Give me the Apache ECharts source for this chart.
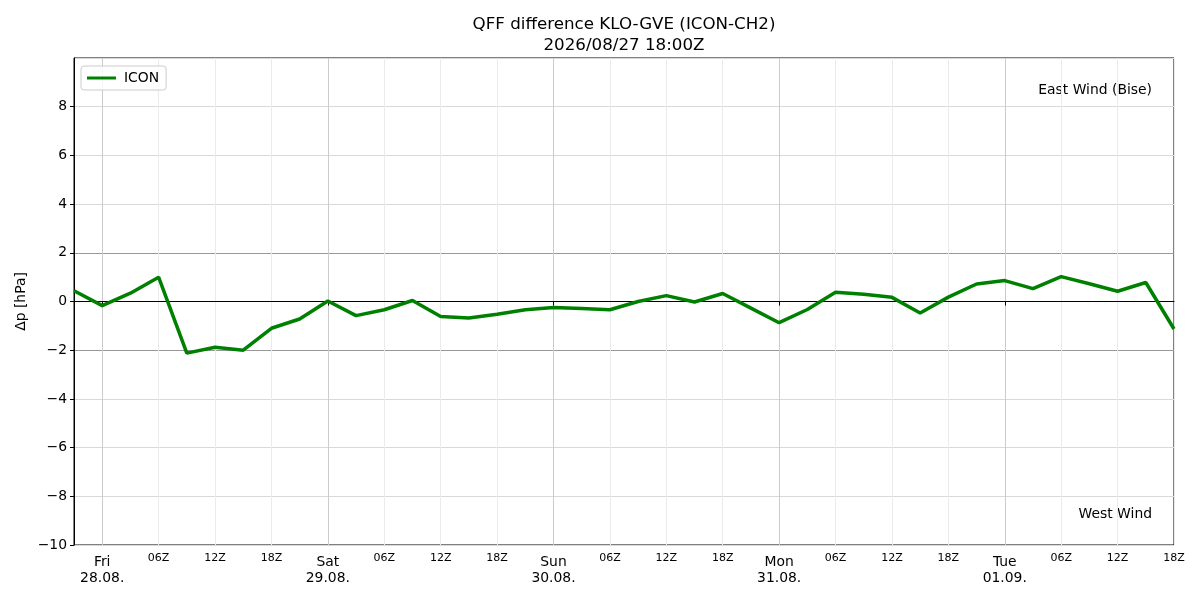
<!DOCTYPE html>
<html>
<head>
<meta charset="utf-8">
<title>QFF difference KLO-GVE</title>
<script src="https://cdn.jsdelivr.net/npm/echarts@6/dist/echarts.min.js"></script>
<style>
  html, body { margin: 0; padding: 0; background: #fff; }
  #main { width: 1200px; height: 600px; }
</style>
</head>
<body>
<div id="main"></div>
<script>
// 3-hourly forecast steps (UTC)
var times = [
    '27.08. 21Z',
    '28.08. 00Z', '28.08. 03Z', '28.08. 06Z', '28.08. 09Z', '28.08. 12Z', '28.08. 15Z', '28.08. 18Z', '28.08. 21Z',
    '29.08. 00Z', '29.08. 03Z', '29.08. 06Z', '29.08. 09Z', '29.08. 12Z', '29.08. 15Z', '29.08. 18Z', '29.08. 21Z',
    '30.08. 00Z', '30.08. 03Z', '30.08. 06Z', '30.08. 09Z', '30.08. 12Z', '30.08. 15Z', '30.08. 18Z', '30.08. 21Z',
    '31.08. 00Z', '31.08. 03Z', '31.08. 06Z', '31.08. 09Z', '31.08. 12Z', '31.08. 15Z', '31.08. 18Z', '31.08. 21Z',
    '01.09. 00Z', '01.09. 03Z', '01.09. 06Z', '01.09. 09Z', '01.09. 12Z', '01.09. 15Z', '01.09. 18Z'
];
var dates = ['28.08.', '29.08.', '30.08.', '31.08.', '01.09.'];
var weekdays = ['Fri', 'Sat', 'Sun', 'Mon', 'Tue'];

// QFF KLO - GVE in hPa
var icon = [
    0.44,
    -0.17, 0.34, 1.0, -2.12, -1.88, -2.0, -1.1, -0.72,
    0.02, -0.58, -0.34, 0.04, -0.62, -0.68, -0.52, -0.34,
    -0.25, -0.29, -0.34, 0.0, 0.24, -0.02, 0.33, -0.27,
    -0.87, -0.33, 0.38, 0.3, 0.17, -0.47, 0.18, 0.72,
    0.86, 0.53, 1.02, 0.73, 0.42, 0.78, -1.13
];

var yTicks = [-10, -8, -6, -4, -2, 0, 2, 4, 6, 8, 10];

var FONT = 'DejaVu Sans';

function everySix(idx) { return idx % 2 === 1; }
function everyDay(idx) { return idx % 8 === 1; }

// grid line colours: darker for +-2, black for 0
var yLineColors = yTicks.map(function (v) {
    if (v === 0) return '#000000';
    if (Math.abs(v) === 2) return '#999999';
    return '#d9d9d9';
});

var myChart = echarts.init(document.getElementById('main'));

var option = {
    animation: false,
    textStyle: {fontFamily: FONT},
    title: {
        text: 'QFF difference KLO-GVE (ICON-CH2)\n2026/08/27 18:00Z',
        left: 624,
        top: 14,
        textAlign: 'center',
        padding: 0,
        textStyle: {fontFamily: FONT, fontSize: 16.7, fontWeight: 'normal', color: '#000', lineHeight: 21}
    },
    legend: {
        data: ['ICON'],
        left: 81,
        top: 66,
        orient: 'vertical',
        icon: 'rect',
        itemWidth: 29,
        itemHeight: 3,
        padding: [5, 7, 5, 6],
        borderColor: '#cccccc',
        borderWidth: 1,
        borderRadius: 3,
        backgroundColor: 'rgba(255,255,255,0.8)',
        textStyle: {fontFamily: FONT, fontSize: 13.9, color: '#000', padding: [0, 0, 0, 3]}
    },
    grid: {
        left: 74,
        right: 26,
        top: 58,
        bottom: 55,
        show: true,
        borderColor: '#000',
        borderWidth: 1,
        backgroundColor: 'transparent'
    },
    xAxis: [
        {
            type: 'category',
            data: times,
            boundaryGap: false,
            axisLine: {show: true, lineStyle: {color: '#000', width: 1}},
            axisTick: {show: true, interval: function (idx) { return everyDay(idx); }, length: 4, lineStyle: {color: '#000'}},
            splitLine: {
                show: true,
                interval: function (idx) { return everySix(idx); },
                lineStyle: {color: ['#cccccc', '#ebebeb', '#ebebeb', '#ebebeb'], width: 1}
            },
            axisLabel: {
                interval: function (idx) { return everySix(idx); },
                margin: 7,
                color: '#000',
                formatter: function (val) {
                    var p = val.split(' ');
                    if (p[1] === '00Z') {
                        var wd = weekdays[dates.indexOf(p[0])];
                        return '{t|' + wd + '}\n{d|' + p[0] + '}';
                    }
                    return '{h|' + p[1] + '}';
                },
                rich: {
                    t: {fontFamily: FONT, fontSize: 13.9, lineHeight: 21, color: '#000'},
                    d: {fontFamily: FONT, fontSize: 13.9, lineHeight: 10, color: '#000'},
                    h: {fontFamily: FONT, fontSize: 11, lineHeight: 12, color: '#000'}
                }
            }
        }
    ],
    yAxis: [
        {
            type: 'value',
            min: -10,
            max: 10,
            interval: 2,
            name: 'Δp [hPa]',
            nameLocation: 'middle',
            nameGap: 46,
            nameMoveOverlap: false,
            nameTextStyle: {fontFamily: FONT, fontSize: 13.9, color: '#000'},
            axisLine: {show: true, lineStyle: {color: '#000', width: 1}},
            axisTick: {show: true, length: 4, lineStyle: {color: '#000'}},
            axisLabel: {
                margin: 7,
                fontFamily: FONT,
                fontSize: 13.9,
                color: '#000',
                showMaxLabel: false,
                formatter: function (v) { return String(v).replace('-', '\u2212'); }
            },
            splitLine: {show: true, lineStyle: {color: yLineColors, width: 1}}
        }
    ],
    graphic: [
        {
            type: 'text',
            right: 48,
            top: 83,
            style: {text: 'East Wind (Bise)', fontFamily: FONT, fontSize: 13.9, fill: '#000'}
        },
        {
            type: 'text',
            right: 48,
            top: 507,
            style: {text: 'West Wind', fontFamily: FONT, fontSize: 13.9, fill: '#000'}
        }
    ],
    series: [
        {
            name: 'ICON',
            type: 'line',
            data: icon,
            symbol: 'none',
            lineStyle: {color: '#008000', width: 3.5},
            itemStyle: {color: '#008000'},
            z: 5
        }
    ]
};

myChart.setOption(option, true);
</script>
</body>
</html>
